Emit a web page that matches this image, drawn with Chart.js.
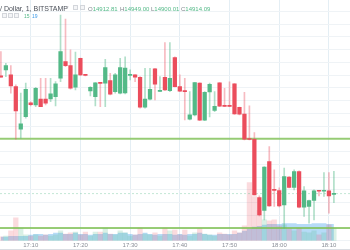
<!DOCTYPE html>
<html>
<head>
<meta charset="utf-8">
<script src="https://cdn.jsdelivr.net/npm/chart.js@4.4.1/dist/chart.umd.min.js"></script>
<style>
  html, body { margin: 0; padding: 0; background: #fff; }
  #wrap { position: relative; width: 350px; height: 250px; overflow: hidden; font-family: "Liberation Sans", Arial, sans-serif; }
  #chart { position: absolute; left: 0; top: 0; }
  .hd { position: absolute; white-space: nowrap; line-height: 1; }
  .box { position: absolute; width: 5px; height: 5px; border: 1px solid #d3d6db; background: #f4f5f7; box-sizing: border-box; }
  .up { color: #53b987; }
  .lt { color: #80848c; }
  #bottomLine { position: absolute; left: 0; top: 249px; width: 350px; height: 1px; background: #dadde2; }
</style>
</head>
<body>
<div id="wrap">
  <canvas id="chart" width="350" height="250"></canvas>
  <!-- legend header, TradingView style -->
  <span class="hd" style="left:0;top:5px;font-size:7px;color:#4a4f58">/ Dollar, 1, BITSTAMP</span>
  <span class="hd" style="left:66px;top:5px;font-size:5px;color:#b0b3b8">▾</span>
  <div class="box" style="left:73px;top:5px"></div>
  <div class="box" style="left:80px;top:5px"></div>
  <span class="hd" style="left:88px;top:5.5px;font-size:6px"><span class="lt">O</span><span class="up">14912.81</span></span>
  <span class="hd" style="left:120px;top:5.5px;font-size:6px"><span class="lt">H</span><span class="up">14949.00</span></span>
  <span class="hd" style="left:151px;top:5.5px;font-size:6px"><span class="lt">L</span><span class="up">14900.01</span></span>
  <span class="hd" style="left:181px;top:5.5px;font-size:6px"><span class="lt">C</span><span class="up">14914.09</span></span>
  <div class="box" style="left:2px;top:13px"></div>
  <div class="box" style="left:8px;top:13px"></div>
  <div class="box" style="left:14px;top:13px"></div>
  <span class="hd" style="left:24px;top:13.5px;font-size:5px;color:#53b987">15</span>
  <span class="hd" style="left:32px;top:13.5px;font-size:5px;color:#3d9be9">19</span>
  <div id="bottomLine"></div>
</div>
<script>
// 1 minute candles, BTC / USD, Bitstamp
const times = [
  '17:04','17:05','17:06','17:07','17:08','17:09',
  '17:10','17:11','17:12','17:13','17:14','17:15','17:16','17:17','17:18','17:19',
  '17:20','17:21','17:22','17:23','17:24','17:25','17:26','17:27','17:28','17:29',
  '17:30','17:31','17:32','17:33','17:34','17:35','17:36','17:37','17:38','17:39',
  '17:40','17:41','17:42','17:43','17:44','17:45','17:46','17:47','17:48','17:49',
  '17:50','17:51','17:52','17:53','17:54','17:55','17:56','17:57','17:58','17:59',
  '18:00','18:01','18:02','18:03','18:04','18:05','18:06','18:07','18:08','18:09',
  '18:10','18:11'
];
const opens = [
  15098.8, 15108.2, 15100.4, 15082.0, 15015.2, 15035.0,
  15056.5, 15053.3, 15062.3, 15062.3, 15062.7, 15066.3, 15095.2, 15121.2, 15115.0, 15081.1,
  15126.3, 15101.2, 15075.3, 15066.3, 15088.3, 15087.4, 15091.4, 15074.2, 15071.7, 15072.2,
  15099.6, 15100.4, 15096.8, 15049.7, 15062.3, 15109.8, 15074.5, 15096.8, 15075.7, 15127.5,
  15082.0, 15075.3, 15030.9, 15037.6, 15087.4, 15029.3, 15073.7, 15044.7, 15087.8, 15052.2,
  15052.2, 15086.3, 15049.7, 15038.9, 15000.3, 14999.2, 14907.9, 14887.5, 14964.4, 14920.5,
  14918.9, 14896.5, 14939.9, 14923.6, 14948.7, 14892.9, 14893.8, 14903.2, 14919.1, 14917.8,
  14918.4, 14912.81
];
const highs = [
  15136.9, 15118.7, 15115.0, 15084.7, 15071.7, 15087.4,
  15058.0, 15081.1, 15095.2, 15095.2, 15095.2, 15089.9, 15194.5, 15188.2, 15139.6, 15136.4,
  15127.0, 15101.5, 15082.0, 15088.3, 15088.6, 15125.0, 15103.0, 15103.0, 15126.6, 15128.6,
  15108.2, 15101.0, 15097.7, 15110.9, 15110.9, 15110.9, 15097.7, 15151.0, 15151.0, 15128.6,
  15100.4, 15095.2, 15074.2, 15088.8, 15088.0, 15074.2, 15087.4, 15074.2, 15088.3, 15079.5,
  15089.4, 15086.8, 15050.0, 15072.9, 15051.7, 15009.9, 14910.6, 14956.5, 14987.9, 14951.4,
  14923.1, 14954.0, 14940.9, 14951.4, 14949.8, 14925.2, 14904.0, 14920.0, 14919.4, 14947.1,
  14947.1, 14949.00
];
const lows = [
  15096.5, 15097.7, 15071.7, 14999.5, 15001.1, 15032.5,
  15051.7, 15050.7, 15050.5, 15053.3, 15058.5, 15051.7, 15089.9, 15113.4, 15077.9, 15076.8,
  15099.3, 15098.8, 15067.4, 15051.7, 15050.7, 15050.7, 15069.0, 15071.7, 15070.6, 15070.6,
  15092.5, 15089.9, 15048.1, 15048.1, 15061.2, 15061.2, 15074.0, 15075.7, 15074.2, 15081.5,
  15074.2, 15029.8, 15029.8, 15036.1, 15028.7, 15028.7, 15034.5, 15042.8, 15050.7, 15050.7,
  15050.7, 15038.4, 15037.6, 14998.4, 14998.4, 14912.0, 14879.2, 14872.9, 14893.8, 14893.8,
  14893.3, 14859.9, 14923.1, 14920.0, 14891.8, 14878.1, 14867.8, 14872.9, 14910.6, 14909.5,
  14883.4, 14900.01
];
const closes = [
  15096.8, 15115.0, 15083.1, 15043.9, 15023.5, 15077.9,
  15053.8, 15079.5, 15050.7, 15056.0, 15070.6, 15086.3, 15136.9, 15115.0, 15079.5, 15100.4,
  15100.4, 15099.6, 15080.8, 15087.8, 15087.0, 15111.8, 15070.1, 15100.4, 15111.8, 15111.2,
  15101.2, 15096.8, 15049.7, 15062.3, 15077.9, 15085.8, 15076.1, 15076.8, 15095.2, 15082.0,
  15074.8, 15074.2, 15037.6, 15088.3, 15029.3, 15073.2, 15085.8, 15051.0, 15051.3, 15051.0,
  15051.0, 15039.2, 15038.9, 14999.5, 14999.0, 14912.2, 14880.8, 14955.6, 14894.9, 14919.2,
  14894.9, 14940.9, 14923.6, 14948.7, 14892.9, 14918.4, 14903.2, 14918.4, 14917.8, 14919.1,
  14910.6, 14914.09
];
const volumes = [
  10, 12, 25, 57, 32, 15,
  12, 15, 12, 15, 12, 15, 25, 17, 20, 22,
  15, 22, 12, 22, 22, 32, 17, 15, 25, 20,
  12, 15, 32, 17, 15, 20, 12, 32, 25, 27,
  15, 27, 12, 20, 30, 17, 15, 12, 20, 17,
  15, 25, 20, 37, 145, 110, 75, 52, 50, 52,
  37, 40, 30, 25, 32, 22, 20, 25, 15, 20,
  40, 32
];
const volumeAvg = [
  10, 10, 12, 12, 12, 12,
  15, 17, 17, 15, 17, 20, 20, 17, 17, 20,
  17, 17, 15, 17, 17, 20, 17, 17, 20, 20,
  17, 15, 17, 20, 17, 15, 17, 17, 17, 15,
  17, 15, 17, 17, 20, 17, 15, 15, 17, 17,
  17, 17, 20, 25, 30, 35, 37, 40, 42, 42,
  42, 44, 44, 44, 42, 42, 42, 44, 44, 44,
  42, 42
];
const tickTimes = ['17:10', '17:20', '17:30', '17:40', '17:50', '18:00', '18:10'];
const levels = [15000, 14860];

const X_MIN = -0.18, X_MAX = 70.24;
const UP = '#53b987', DOWN = '#eb4d5c';

const isUp = opens.map((o, i) => closes[i] >= o);
const bodyData = times.map((t, i) => ({ x: i, y: [opens[i], closes[i]] }));
const wickData = times.map((t, i) => ({ x: i, y: [lows[i], highs[i]] }));
const volData = times.map((t, i) => ({ x: i, y: volumes[i] }));
const volAvgData = times.map((t, i) => ({ x: i, y: volumeAvg[i] }));
const lastClose = closes[closes.length - 1];

Chart.defaults.font.family = '"Liberation Sans", Arial, sans-serif';

const datasets = [
  {
    type: 'bar', label: 'body', data: bodyData, order: 0, grouped: false,
    backgroundColor: isUp.map(u => u ? UP : DOWN),
    barThickness: 3.6, minBarLength: 1, borderWidth: 0
  },
  {
    type: 'bar', label: 'wick', data: wickData, order: 1, grouped: false,
    backgroundColor: isUp.map(u => u ? 'rgba(83,185,135,0.45)' : 'rgba(235,77,92,0.38)'),
    barThickness: 1, borderWidth: 0
  }
];
levels.forEach(lv => {
  datasets.push({
    type: 'line', label: 'level', data: [{ x: X_MIN, y: lv }, { x: X_MAX, y: lv }], order: 2,
    borderColor: 'rgba(128,192,84,0.8)', borderWidth: 2, pointRadius: 0, fill: false
  });
});
datasets.push({
  type: 'line', label: 'last', data: [{ x: X_MIN, y: lastClose }, { x: X_MAX, y: lastClose }], order: 2,
  borderColor: 'rgba(83,185,135,0.35)', borderWidth: 1, borderDash: [2, 2], pointRadius: 0, fill: false
});
datasets.push({
  type: 'bar', label: 'volume', data: volData, yAxisID: 'vol', order: 3, grouped: false,
  backgroundColor: isUp.map(u => u ? 'rgba(83,185,135,0.22)' : 'rgba(235,77,92,0.2)'),
  barThickness: 4.6, borderWidth: 0
});
datasets.push({
  type: 'line', label: 'volume avg', data: volAvgData, yAxisID: 'vol', order: 4,
  borderWidth: 0, pointRadius: 0, stepped: 'middle',
  fill: 'origin', backgroundColor: 'rgba(80,170,235,0.42)'
});

new Chart(document.getElementById('chart'), {
  data: { datasets },
  options: {
    responsive: false,
    animation: false,
    events: [],
    layout: { padding: 0 },
    plugins: { legend: { display: false }, tooltip: { enabled: false } },
    scales: {
      x: {
        type: 'linear', min: X_MIN, max: X_MAX, bounds: 'data', offset: false,
        afterBuildTicks: s => { s.ticks = tickTimes.map(t => ({ value: times.indexOf(t) })); },
        ticks: { callback: v => times[v], font: { size: 6 }, color: '#8a8e97', padding: 1, maxRotation: 0, autoSkip: false },
        grid: { color: '#e4eef4', drawTicks: false, offset: false },
        border: { display: false }
      },
      y: {
        min: 14840, max: 15218,
        ticks: { display: false, stepSize: 20, includeBounds: false },
        grid: { color: '#eff3f6', drawTicks: false },
        border: { display: false }
      },
      vol: { display: false, min: 0, max: 600 }
    }
  }
});
</script>
</body>
</html>
